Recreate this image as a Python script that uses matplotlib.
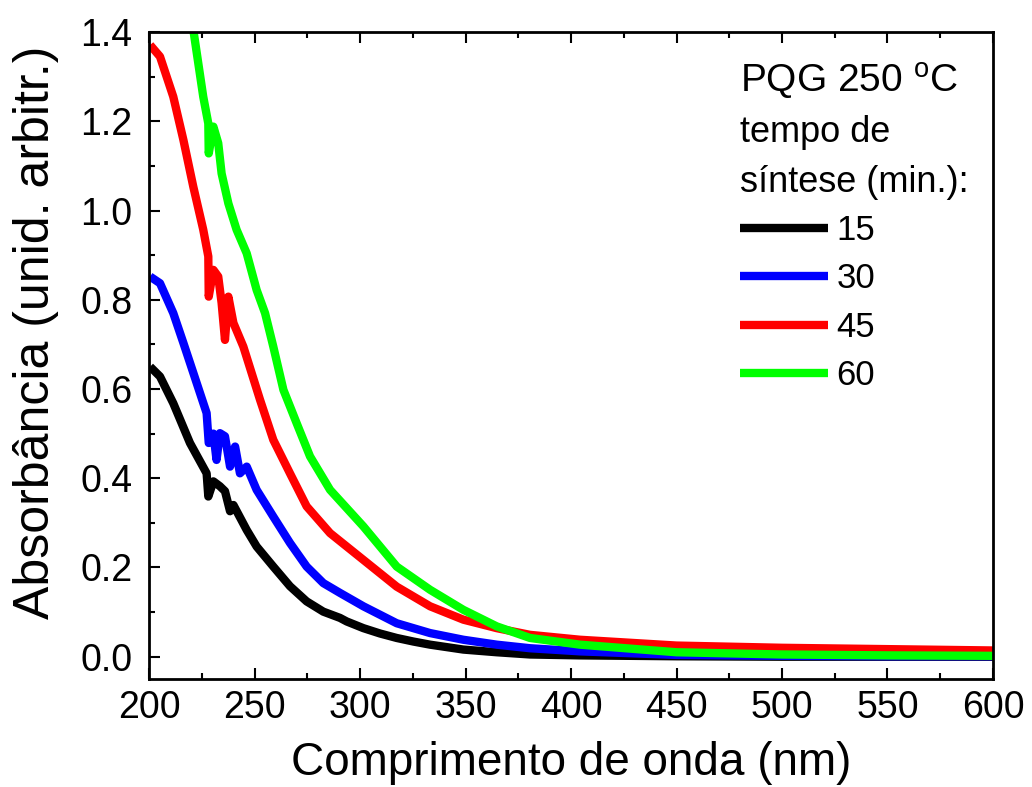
import matplotlib
matplotlib.use('Agg')
import matplotlib.pyplot as plt
from matplotlib.ticker import MultipleLocator

plt.rcParams['font.family'] = ['Liberation Sans', 'DejaVu Sans']
plt.rcParams['mathtext.fontset'] = 'custom'
plt.rcParams['mathtext.rm'] = 'Liberation Sans'

# wavelength (nm) / absorbance
wl_15 = [200.5, 205.2, 211.5, 219.4, 227.3, 228.1, 230.5, 233.6, 236.0, 238.4, 240.0,
         246.3, 251.0, 258.9, 266.8, 274.7, 282.6, 290.5, 293.7, 301.6, 309.5, 317.4,
         325.3, 333.2, 349.0, 364.8, 380.6, 404.3, 450, 500, 550, 600]
abs_15 = [0.650, 0.628, 0.568, 0.479, 0.411, 0.359, 0.393, 0.382, 0.371, 0.326, 0.340,
          0.284, 0.247, 0.202, 0.158, 0.124, 0.101, 0.087, 0.079, 0.064, 0.052, 0.042,
          0.034, 0.027, 0.016, 0.010, 0.005, 0.003, 0.001, 0.0, 0.0, 0.0]

wl_30 = [200.5, 205.2, 211.5, 216.3, 221.0, 227.3, 228.3, 230.5, 232.0, 233.6, 236.0,
         238.4, 240.8, 243.1, 246.3, 251.0, 258.9, 266.8, 274.7, 282.6, 290.5, 301.6,
         317.4, 333.2, 349.0, 364.8, 380.6, 404.3, 450, 500, 550, 600]
abs_30 = [0.852, 0.837, 0.770, 0.703, 0.636, 0.546, 0.479, 0.500, 0.441, 0.501, 0.494,
          0.426, 0.471, 0.411, 0.426, 0.374, 0.314, 0.255, 0.202, 0.165, 0.143, 0.113,
          0.075, 0.053, 0.038, 0.027, 0.019, 0.012, 0.004, 0.002, 0.001, 0.001]

wl_45 = [200.5, 205.2, 211.5, 216.3, 221.0, 225.7, 228.1, 228.3, 230.5, 232.8, 234.4,
         236.0, 237.6, 240.0, 244.7, 252.6, 258.9, 266.8, 274.7, 285.8, 301.6, 317.4,
         333.2, 349.0, 364.8, 380.6, 404.3, 450, 500, 550, 600]
abs_45 = [1.371, 1.345, 1.255, 1.158, 1.053, 0.957, 0.897, 0.807, 0.867, 0.852, 0.793,
          0.710, 0.807, 0.748, 0.695, 0.576, 0.486, 0.411, 0.337, 0.277, 0.217, 0.157,
          0.113, 0.083, 0.064, 0.049, 0.038, 0.025, 0.020, 0.017, 0.014]

wl_60 = [219.0, 221.0, 225.7, 228.1, 228.3, 230.5, 232.8, 234.4, 237.6, 241.5, 246.3,
         251.0, 255.0, 258.9, 263.7, 270.0, 276.3, 285.8, 301.6, 317.4, 333.2, 349.0,
         364.8, 380.6, 404.3, 450, 500, 550, 600]
abs_60 = [1.470, 1.405, 1.255, 1.195, 1.128, 1.188, 1.151, 1.083, 1.016, 0.957, 0.904,
          0.822, 0.770, 0.695, 0.598, 0.523, 0.449, 0.374, 0.292, 0.202, 0.150, 0.105,
          0.068, 0.042, 0.027, 0.010, 0.005, 0.003, 0.002]

labels = ['15', '30', '45', '60']
colors = ['#000000', '#0000ff', '#ff0000', '#00ff00']

fig = plt.figure(figsize=(10.32, 7.87), dpi=100)
ax = fig.add_axes([0.1444, 0.1372, 0.8178, 0.8221])

series = [(wl_15, abs_15), (wl_30, abs_30), (wl_45, abs_45), (wl_60, abs_60)]
for (x, y), lab, c in zip(series, labels, colors):
    ax.plot(x, y, color=c, lw=6, label=lab, solid_joinstyle='round', solid_capstyle='butt')

ax.set_xlim(200, 600)
ax.set_ylim(-0.05, 1.4)
ax.xaxis.set_major_locator(MultipleLocator(50))
ax.xaxis.set_minor_locator(MultipleLocator(25))
ax.yaxis.set_major_locator(MultipleLocator(0.2))
ax.yaxis.set_minor_locator(MultipleLocator(0.1))
ax.yaxis.set_major_formatter(plt.FuncFormatter(lambda v, p: f'{v:.1f}'))
ax.tick_params(which='both', direction='in', width=1.5, labelsize=27, top=True, right=False)
ax.tick_params(which='major', length=8)
ax.tick_params(axis='y', which='major', pad=12)
ax.tick_params(axis='x', which='major', pad=8)
ax.tick_params(which='minor', length=4)
for s in ax.spines.values():
    s.set_linewidth(2)

ax.set_xlabel('Comprimento de onda (nm)', fontsize=33, labelpad=11)
ax.set_ylabel('Absorbância (unid. arbitr.)', fontsize=36)
ax.yaxis.set_label_coords(-0.107, 0.536)

# legend header
ax.text(0.700, 0.923, 'PQG 250 $^\\mathrm{o}$C', transform=ax.transAxes, fontsize=28, va='center')
ax.text(0.700, 0.845, 'tempo de', transform=ax.transAxes, fontsize=26, va='center')
ax.text(0.700, 0.767, 'síntese (min.):', transform=ax.transAxes, fontsize=26, va='center')
ax.legend(loc='upper left', bbox_to_anchor=(0.700, 0.7185), frameon=False, fontsize=25,
          borderpad=0, borderaxespad=0, handlelength=2.53, handletextpad=0.26,
          labelspacing=0.44)

plt.savefig('out.png', dpi=100)
plt.close()
